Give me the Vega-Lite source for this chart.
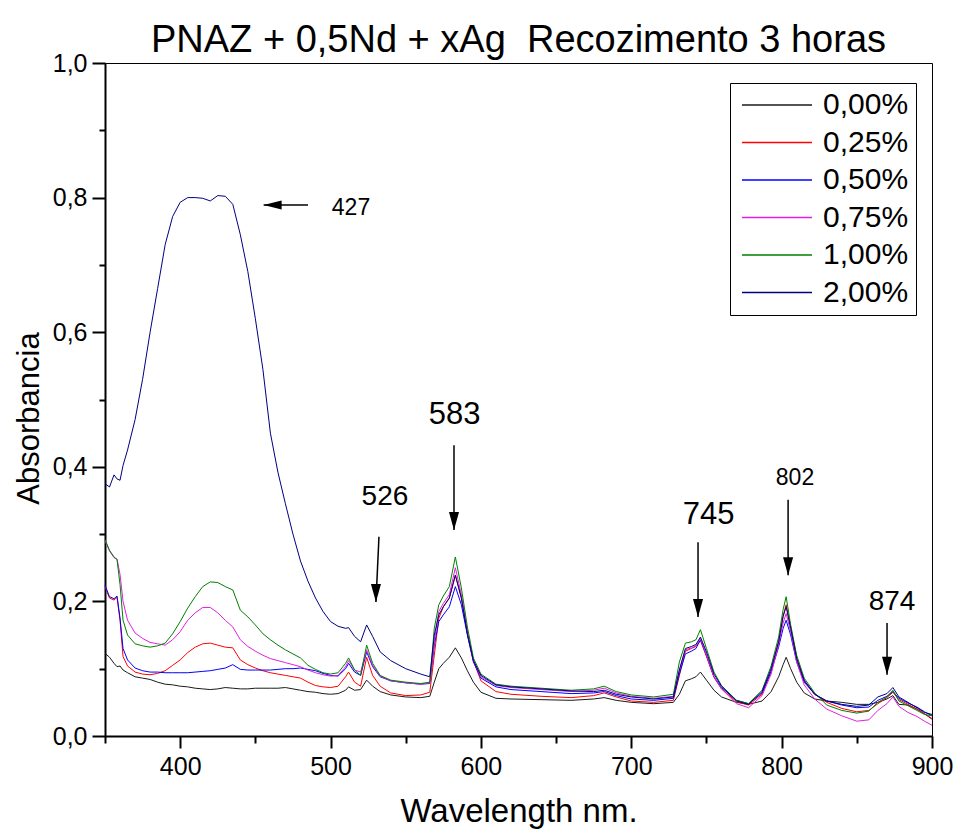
{
  "$schema": "https://vega.github.io/schema/vega-lite/v6.json",
  "width": 827,
  "height": 673,
  "autosize": {"type": "none"},
  "padding": {"left": 105, "top": 63, "right": 21, "bottom": 93},
  "background": "white",
  "title": {
    "text": "PNAZ + 0,5Nd + xAg\u00a0 Recozimento 3 horas",
    "font": "Liberation Sans",
    "fontSize": 38,
    "fontWeight": "normal",
    "color": "black",
    "anchor": "middle",
    "offset": 5,
    "dy": 14
  },
  "config": {
    "view": {"stroke": "black", "strokeWidth": 1},
    "font": "Liberation Sans"
  },
  "datasets": {
    "spectra": [
{"s":"0,00%","w":350,"a":0.123},{"s":"0,00%","w":353,"a":0.117},{"s":"0,00%","w":356,"a":0.108},{"s":"0,00%","w":358,"a":0.103},{"s":"0,00%","w":360,"a":0.104},{"s":"0,00%","w":362,"a":0.098},{"s":"0,00%","w":365,"a":0.094},{"s":"0,00%","w":370,"a":0.088},{"s":"0,00%","w":375,"a":0.086},{"s":"0,00%","w":380,"a":0.084},{"s":"0,00%","w":385,"a":0.080},{"s":"0,00%","w":390,"a":0.077},{"s":"0,00%","w":395,"a":0.076},{"s":"0,00%","w":400,"a":0.074},{"s":"0,00%","w":405,"a":0.073},{"s":"0,00%","w":410,"a":0.071},{"s":"0,00%","w":415,"a":0.070},{"s":"0,00%","w":420,"a":0.069},{"s":"0,00%","w":425,"a":0.070},{"s":"0,00%","w":430,"a":0.072},{"s":"0,00%","w":435,"a":0.071},{"s":"0,00%","w":440,"a":0.070},{"s":"0,00%","w":445,"a":0.070},{"s":"0,00%","w":450,"a":0.071},{"s":"0,00%","w":455,"a":0.071},{"s":"0,00%","w":460,"a":0.071},{"s":"0,00%","w":465,"a":0.071},{"s":"0,00%","w":470,"a":0.072},{"s":"0,00%","w":475,"a":0.070},{"s":"0,00%","w":480,"a":0.068},{"s":"0,00%","w":485,"a":0.066},{"s":"0,00%","w":490,"a":0.065},{"s":"0,00%","w":495,"a":0.063},{"s":"0,00%","w":500,"a":0.062},{"s":"0,00%","w":505,"a":0.063},{"s":"0,00%","w":510,"a":0.068},{"s":"0,00%","w":512,"a":0.073},{"s":"0,00%","w":516,"a":0.068},{"s":"0,00%","w":520,"a":0.069},{"s":"0,00%","w":524,"a":0.083},{"s":"0,00%","w":528,"a":0.074},{"s":"0,00%","w":533,"a":0.066},{"s":"0,00%","w":540,"a":0.061},{"s":"0,00%","w":550,"a":0.058},{"s":"0,00%","w":560,"a":0.057},{"s":"0,00%","w":566,"a":0.059},{"s":"0,00%","w":569,"a":0.080},{"s":"0,00%","w":572,"a":0.100},{"s":"0,00%","w":575,"a":0.108},{"s":"0,00%","w":579,"a":0.117},{"s":"0,00%","w":583,"a":0.131},{"s":"0,00%","w":587,"a":0.116},{"s":"0,00%","w":591,"a":0.097},{"s":"0,00%","w":595,"a":0.080},{"s":"0,00%","w":600,"a":0.065},{"s":"0,00%","w":610,"a":0.056},{"s":"0,00%","w":620,"a":0.055},{"s":"0,00%","w":640,"a":0.054},{"s":"0,00%","w":660,"a":0.053},{"s":"0,00%","w":675,"a":0.055},{"s":"0,00%","w":682,"a":0.057},{"s":"0,00%","w":690,"a":0.053},{"s":"0,00%","w":700,"a":0.050},{"s":"0,00%","w":715,"a":0.048},{"s":"0,00%","w":728,"a":0.050},{"s":"0,00%","w":732,"a":0.062},{"s":"0,00%","w":736,"a":0.082},{"s":"0,00%","w":740,"a":0.085},{"s":"0,00%","w":743,"a":0.088},{"s":"0,00%","w":746,"a":0.095},{"s":"0,00%","w":750,"a":0.083},{"s":"0,00%","w":755,"a":0.068},{"s":"0,00%","w":760,"a":0.058},{"s":"0,00%","w":770,"a":0.050},{"s":"0,00%","w":778,"a":0.047},{"s":"0,00%","w":787,"a":0.052},{"s":"0,00%","w":793,"a":0.066},{"s":"0,00%","w":798,"a":0.088},{"s":"0,00%","w":801,"a":0.106},{"s":"0,00%","w":803,"a":0.117},{"s":"0,00%","w":806,"a":0.100},{"s":"0,00%","w":810,"a":0.080},{"s":"0,00%","w":815,"a":0.064},{"s":"0,00%","w":822,"a":0.055},{"s":"0,00%","w":830,"a":0.052},{"s":"0,00%","w":840,"a":0.050},{"s":"0,00%","w":850,"a":0.047},{"s":"0,00%","w":858,"a":0.047},{"s":"0,00%","w":864,"a":0.050},{"s":"0,00%","w":870,"a":0.055},{"s":"0,00%","w":874,"a":0.060},{"s":"0,00%","w":878,"a":0.047},{"s":"0,00%","w":884,"a":0.046},{"s":"0,00%","w":890,"a":0.040},{"s":"0,00%","w":895,"a":0.033},{"s":"0,00%","w":900,"a":0.025},
{"s":"0,25%","w":350,"a":0.222},{"s":"0,25%","w":353,"a":0.205},{"s":"0,25%","w":356,"a":0.202},{"s":"0,25%","w":358,"a":0.206},{"s":"0,25%","w":360,"a":0.172},{"s":"0,25%","w":362,"a":0.118},{"s":"0,25%","w":365,"a":0.104},{"s":"0,25%","w":370,"a":0.095},{"s":"0,25%","w":375,"a":0.092},{"s":"0,25%","w":380,"a":0.091},{"s":"0,25%","w":385,"a":0.093},{"s":"0,25%","w":390,"a":0.097},{"s":"0,25%","w":395,"a":0.105},{"s":"0,25%","w":400,"a":0.113},{"s":"0,25%","w":405,"a":0.124},{"s":"0,25%","w":410,"a":0.132},{"s":"0,25%","w":415,"a":0.137},{"s":"0,25%","w":420,"a":0.138},{"s":"0,25%","w":425,"a":0.135},{"s":"0,25%","w":430,"a":0.132},{"s":"0,25%","w":435,"a":0.131},{"s":"0,25%","w":440,"a":0.113},{"s":"0,25%","w":445,"a":0.106},{"s":"0,25%","w":450,"a":0.101},{"s":"0,25%","w":455,"a":0.097},{"s":"0,25%","w":460,"a":0.094},{"s":"0,25%","w":465,"a":0.092},{"s":"0,25%","w":470,"a":0.090},{"s":"0,25%","w":475,"a":0.088},{"s":"0,25%","w":480,"a":0.086},{"s":"0,25%","w":485,"a":0.080},{"s":"0,25%","w":490,"a":0.075},{"s":"0,25%","w":495,"a":0.073},{"s":"0,25%","w":500,"a":0.072},{"s":"0,25%","w":505,"a":0.074},{"s":"0,25%","w":510,"a":0.088},{"s":"0,25%","w":512,"a":0.095},{"s":"0,25%","w":516,"a":0.080},{"s":"0,25%","w":520,"a":0.074},{"s":"0,25%","w":524,"a":0.117},{"s":"0,25%","w":528,"a":0.090},{"s":"0,25%","w":533,"a":0.074},{"s":"0,25%","w":540,"a":0.064},{"s":"0,25%","w":550,"a":0.060},{"s":"0,25%","w":560,"a":0.061},{"s":"0,25%","w":566,"a":0.065},{"s":"0,25%","w":569,"a":0.120},{"s":"0,25%","w":572,"a":0.175},{"s":"0,25%","w":575,"a":0.192},{"s":"0,25%","w":579,"a":0.205},{"s":"0,25%","w":583,"a":0.239},{"s":"0,25%","w":587,"a":0.205},{"s":"0,25%","w":591,"a":0.152},{"s":"0,25%","w":595,"a":0.112},{"s":"0,25%","w":600,"a":0.082},{"s":"0,25%","w":610,"a":0.066},{"s":"0,25%","w":620,"a":0.062},{"s":"0,25%","w":640,"a":0.059},{"s":"0,25%","w":660,"a":0.057},{"s":"0,25%","w":675,"a":0.060},{"s":"0,25%","w":682,"a":0.064},{"s":"0,25%","w":690,"a":0.058},{"s":"0,25%","w":700,"a":0.052},{"s":"0,25%","w":715,"a":0.050},{"s":"0,25%","w":728,"a":0.053},{"s":"0,25%","w":732,"a":0.090},{"s":"0,25%","w":736,"a":0.126},{"s":"0,25%","w":740,"a":0.130},{"s":"0,25%","w":743,"a":0.133},{"s":"0,25%","w":746,"a":0.142},{"s":"0,25%","w":750,"a":0.118},{"s":"0,25%","w":755,"a":0.087},{"s":"0,25%","w":760,"a":0.070},{"s":"0,25%","w":770,"a":0.051},{"s":"0,25%","w":778,"a":0.046},{"s":"0,25%","w":787,"a":0.062},{"s":"0,25%","w":793,"a":0.096},{"s":"0,25%","w":798,"a":0.140},{"s":"0,25%","w":801,"a":0.178},{"s":"0,25%","w":803,"a":0.195},{"s":"0,25%","w":806,"a":0.163},{"s":"0,25%","w":810,"a":0.116},{"s":"0,25%","w":815,"a":0.082},{"s":"0,25%","w":822,"a":0.062},{"s":"0,25%","w":830,"a":0.050},{"s":"0,25%","w":840,"a":0.041},{"s":"0,25%","w":850,"a":0.036},{"s":"0,25%","w":858,"a":0.038},{"s":"0,25%","w":864,"a":0.048},{"s":"0,25%","w":870,"a":0.057},{"s":"0,25%","w":874,"a":0.065},{"s":"0,25%","w":878,"a":0.054},{"s":"0,25%","w":884,"a":0.047},{"s":"0,25%","w":890,"a":0.040},{"s":"0,25%","w":895,"a":0.033},{"s":"0,25%","w":900,"a":0.026},
{"s":"0,50%","w":350,"a":0.224},{"s":"0,50%","w":353,"a":0.207},{"s":"0,50%","w":356,"a":0.204},{"s":"0,50%","w":358,"a":0.208},{"s":"0,50%","w":360,"a":0.175},{"s":"0,50%","w":362,"a":0.130},{"s":"0,50%","w":365,"a":0.113},{"s":"0,50%","w":370,"a":0.101},{"s":"0,50%","w":375,"a":0.097},{"s":"0,50%","w":380,"a":0.095},{"s":"0,50%","w":385,"a":0.095},{"s":"0,50%","w":390,"a":0.094},{"s":"0,50%","w":395,"a":0.094},{"s":"0,50%","w":400,"a":0.094},{"s":"0,50%","w":405,"a":0.094},{"s":"0,50%","w":410,"a":0.095},{"s":"0,50%","w":415,"a":0.096},{"s":"0,50%","w":420,"a":0.097},{"s":"0,50%","w":425,"a":0.099},{"s":"0,50%","w":430,"a":0.101},{"s":"0,50%","w":435,"a":0.106},{"s":"0,50%","w":440,"a":0.099},{"s":"0,50%","w":445,"a":0.098},{"s":"0,50%","w":450,"a":0.098},{"s":"0,50%","w":455,"a":0.098},{"s":"0,50%","w":460,"a":0.098},{"s":"0,50%","w":465,"a":0.099},{"s":"0,50%","w":470,"a":0.100},{"s":"0,50%","w":475,"a":0.100},{"s":"0,50%","w":480,"a":0.101},{"s":"0,50%","w":485,"a":0.099},{"s":"0,50%","w":490,"a":0.097},{"s":"0,50%","w":495,"a":0.093},{"s":"0,50%","w":500,"a":0.090},{"s":"0,50%","w":505,"a":0.089},{"s":"0,50%","w":510,"a":0.100},{"s":"0,50%","w":512,"a":0.108},{"s":"0,50%","w":516,"a":0.095},{"s":"0,50%","w":520,"a":0.090},{"s":"0,50%","w":524,"a":0.125},{"s":"0,50%","w":528,"a":0.103},{"s":"0,50%","w":533,"a":0.088},{"s":"0,50%","w":540,"a":0.082},{"s":"0,50%","w":550,"a":0.079},{"s":"0,50%","w":560,"a":0.077},{"s":"0,50%","w":566,"a":0.078},{"s":"0,50%","w":569,"a":0.135},{"s":"0,50%","w":572,"a":0.170},{"s":"0,50%","w":575,"a":0.180},{"s":"0,50%","w":579,"a":0.192},{"s":"0,50%","w":583,"a":0.222},{"s":"0,50%","w":587,"a":0.195},{"s":"0,50%","w":591,"a":0.150},{"s":"0,50%","w":595,"a":0.110},{"s":"0,50%","w":600,"a":0.086},{"s":"0,50%","w":610,"a":0.073},{"s":"0,50%","w":620,"a":0.069},{"s":"0,50%","w":640,"a":0.066},{"s":"0,50%","w":660,"a":0.063},{"s":"0,50%","w":675,"a":0.064},{"s":"0,50%","w":682,"a":0.066},{"s":"0,50%","w":690,"a":0.060},{"s":"0,50%","w":700,"a":0.055},{"s":"0,50%","w":715,"a":0.053},{"s":"0,50%","w":728,"a":0.056},{"s":"0,50%","w":732,"a":0.092},{"s":"0,50%","w":736,"a":0.122},{"s":"0,50%","w":740,"a":0.126},{"s":"0,50%","w":743,"a":0.130},{"s":"0,50%","w":746,"a":0.143},{"s":"0,50%","w":750,"a":0.120},{"s":"0,50%","w":755,"a":0.088},{"s":"0,50%","w":760,"a":0.072},{"s":"0,50%","w":770,"a":0.053},{"s":"0,50%","w":778,"a":0.048},{"s":"0,50%","w":787,"a":0.064},{"s":"0,50%","w":793,"a":0.096},{"s":"0,50%","w":798,"a":0.132},{"s":"0,50%","w":801,"a":0.160},{"s":"0,50%","w":803,"a":0.172},{"s":"0,50%","w":806,"a":0.150},{"s":"0,50%","w":810,"a":0.110},{"s":"0,50%","w":815,"a":0.080},{"s":"0,50%","w":822,"a":0.062},{"s":"0,50%","w":830,"a":0.052},{"s":"0,50%","w":840,"a":0.046},{"s":"0,50%","w":850,"a":0.042},{"s":"0,50%","w":858,"a":0.043},{"s":"0,50%","w":864,"a":0.053},{"s":"0,50%","w":870,"a":0.059},{"s":"0,50%","w":874,"a":0.066},{"s":"0,50%","w":878,"a":0.056},{"s":"0,50%","w":884,"a":0.049},{"s":"0,50%","w":890,"a":0.043},{"s":"0,50%","w":895,"a":0.036},{"s":"0,50%","w":900,"a":0.030},
{"s":"0,75%","w":350,"a":0.290},{"s":"0,75%","w":353,"a":0.275},{"s":"0,75%","w":356,"a":0.265},{"s":"0,75%","w":358,"a":0.263},{"s":"0,75%","w":360,"a":0.240},{"s":"0,75%","w":362,"a":0.200},{"s":"0,75%","w":365,"a":0.172},{"s":"0,75%","w":370,"a":0.153},{"s":"0,75%","w":375,"a":0.145},{"s":"0,75%","w":380,"a":0.139},{"s":"0,75%","w":385,"a":0.137},{"s":"0,75%","w":390,"a":0.135},{"s":"0,75%","w":395,"a":0.143},{"s":"0,75%","w":400,"a":0.155},{"s":"0,75%","w":405,"a":0.172},{"s":"0,75%","w":410,"a":0.183},{"s":"0,75%","w":415,"a":0.191},{"s":"0,75%","w":420,"a":0.191},{"s":"0,75%","w":425,"a":0.183},{"s":"0,75%","w":430,"a":0.172},{"s":"0,75%","w":435,"a":0.162},{"s":"0,75%","w":440,"a":0.143},{"s":"0,75%","w":445,"a":0.133},{"s":"0,75%","w":450,"a":0.126},{"s":"0,75%","w":455,"a":0.120},{"s":"0,75%","w":460,"a":0.115},{"s":"0,75%","w":465,"a":0.112},{"s":"0,75%","w":470,"a":0.109},{"s":"0,75%","w":475,"a":0.106},{"s":"0,75%","w":480,"a":0.103},{"s":"0,75%","w":485,"a":0.098},{"s":"0,75%","w":490,"a":0.094},{"s":"0,75%","w":495,"a":0.091},{"s":"0,75%","w":500,"a":0.089},{"s":"0,75%","w":505,"a":0.090},{"s":"0,75%","w":510,"a":0.103},{"s":"0,75%","w":512,"a":0.112},{"s":"0,75%","w":516,"a":0.098},{"s":"0,75%","w":520,"a":0.095},{"s":"0,75%","w":524,"a":0.128},{"s":"0,75%","w":528,"a":0.105},{"s":"0,75%","w":533,"a":0.089},{"s":"0,75%","w":540,"a":0.082},{"s":"0,75%","w":550,"a":0.079},{"s":"0,75%","w":560,"a":0.077},{"s":"0,75%","w":566,"a":0.079},{"s":"0,75%","w":569,"a":0.140},{"s":"0,75%","w":572,"a":0.185},{"s":"0,75%","w":575,"a":0.197},{"s":"0,75%","w":579,"a":0.210},{"s":"0,75%","w":583,"a":0.250},{"s":"0,75%","w":587,"a":0.210},{"s":"0,75%","w":591,"a":0.155},{"s":"0,75%","w":595,"a":0.112},{"s":"0,75%","w":600,"a":0.088},{"s":"0,75%","w":610,"a":0.075},{"s":"0,75%","w":620,"a":0.072},{"s":"0,75%","w":640,"a":0.069},{"s":"0,75%","w":660,"a":0.066},{"s":"0,75%","w":675,"a":0.068},{"s":"0,75%","w":682,"a":0.071},{"s":"0,75%","w":690,"a":0.064},{"s":"0,75%","w":700,"a":0.059},{"s":"0,75%","w":715,"a":0.056},{"s":"0,75%","w":728,"a":0.059},{"s":"0,75%","w":732,"a":0.098},{"s":"0,75%","w":736,"a":0.128},{"s":"0,75%","w":740,"a":0.131},{"s":"0,75%","w":743,"a":0.134},{"s":"0,75%","w":746,"a":0.145},{"s":"0,75%","w":750,"a":0.120},{"s":"0,75%","w":755,"a":0.088},{"s":"0,75%","w":760,"a":0.070},{"s":"0,75%","w":770,"a":0.048},{"s":"0,75%","w":778,"a":0.042},{"s":"0,75%","w":787,"a":0.060},{"s":"0,75%","w":793,"a":0.092},{"s":"0,75%","w":798,"a":0.136},{"s":"0,75%","w":801,"a":0.168},{"s":"0,75%","w":803,"a":0.182},{"s":"0,75%","w":806,"a":0.155},{"s":"0,75%","w":810,"a":0.110},{"s":"0,75%","w":815,"a":0.076},{"s":"0,75%","w":822,"a":0.055},{"s":"0,75%","w":830,"a":0.040},{"s":"0,75%","w":840,"a":0.030},{"s":"0,75%","w":850,"a":0.022},{"s":"0,75%","w":858,"a":0.024},{"s":"0,75%","w":864,"a":0.038},{"s":"0,75%","w":870,"a":0.048},{"s":"0,75%","w":874,"a":0.058},{"s":"0,75%","w":878,"a":0.044},{"s":"0,75%","w":884,"a":0.035},{"s":"0,75%","w":890,"a":0.029},{"s":"0,75%","w":895,"a":0.022},{"s":"0,75%","w":900,"a":0.016},
{"s":"1,00%","w":350,"a":0.292},{"s":"1,00%","w":353,"a":0.276},{"s":"1,00%","w":356,"a":0.266},{"s":"1,00%","w":358,"a":0.262},{"s":"1,00%","w":360,"a":0.225},{"s":"1,00%","w":362,"a":0.172},{"s":"1,00%","w":365,"a":0.150},{"s":"1,00%","w":370,"a":0.137},{"s":"1,00%","w":375,"a":0.134},{"s":"1,00%","w":380,"a":0.132},{"s":"1,00%","w":385,"a":0.134},{"s":"1,00%","w":390,"a":0.138},{"s":"1,00%","w":395,"a":0.152},{"s":"1,00%","w":400,"a":0.170},{"s":"1,00%","w":405,"a":0.190},{"s":"1,00%","w":410,"a":0.207},{"s":"1,00%","w":415,"a":0.222},{"s":"1,00%","w":420,"a":0.229},{"s":"1,00%","w":425,"a":0.228},{"s":"1,00%","w":430,"a":0.222},{"s":"1,00%","w":435,"a":0.217},{"s":"1,00%","w":440,"a":0.187},{"s":"1,00%","w":445,"a":0.177},{"s":"1,00%","w":450,"a":0.165},{"s":"1,00%","w":455,"a":0.152},{"s":"1,00%","w":460,"a":0.143},{"s":"1,00%","w":465,"a":0.135},{"s":"1,00%","w":470,"a":0.128},{"s":"1,00%","w":475,"a":0.122},{"s":"1,00%","w":480,"a":0.116},{"s":"1,00%","w":485,"a":0.105},{"s":"1,00%","w":490,"a":0.099},{"s":"1,00%","w":495,"a":0.094},{"s":"1,00%","w":500,"a":0.092},{"s":"1,00%","w":505,"a":0.094},{"s":"1,00%","w":510,"a":0.108},{"s":"1,00%","w":512,"a":0.116},{"s":"1,00%","w":516,"a":0.098},{"s":"1,00%","w":520,"a":0.090},{"s":"1,00%","w":524,"a":0.135},{"s":"1,00%","w":528,"a":0.108},{"s":"1,00%","w":533,"a":0.090},{"s":"1,00%","w":540,"a":0.083},{"s":"1,00%","w":550,"a":0.080},{"s":"1,00%","w":560,"a":0.078},{"s":"1,00%","w":566,"a":0.080},{"s":"1,00%","w":569,"a":0.160},{"s":"1,00%","w":572,"a":0.195},{"s":"1,00%","w":575,"a":0.208},{"s":"1,00%","w":579,"a":0.222},{"s":"1,00%","w":583,"a":0.266},{"s":"1,00%","w":587,"a":0.220},{"s":"1,00%","w":591,"a":0.162},{"s":"1,00%","w":595,"a":0.116},{"s":"1,00%","w":600,"a":0.092},{"s":"1,00%","w":610,"a":0.077},{"s":"1,00%","w":620,"a":0.074},{"s":"1,00%","w":640,"a":0.071},{"s":"1,00%","w":660,"a":0.068},{"s":"1,00%","w":675,"a":0.070},{"s":"1,00%","w":682,"a":0.074},{"s":"1,00%","w":690,"a":0.066},{"s":"1,00%","w":700,"a":0.061},{"s":"1,00%","w":715,"a":0.058},{"s":"1,00%","w":728,"a":0.062},{"s":"1,00%","w":732,"a":0.110},{"s":"1,00%","w":736,"a":0.138},{"s":"1,00%","w":740,"a":0.140},{"s":"1,00%","w":743,"a":0.143},{"s":"1,00%","w":746,"a":0.158},{"s":"1,00%","w":750,"a":0.130},{"s":"1,00%","w":755,"a":0.095},{"s":"1,00%","w":760,"a":0.075},{"s":"1,00%","w":770,"a":0.053},{"s":"1,00%","w":778,"a":0.048},{"s":"1,00%","w":787,"a":0.068},{"s":"1,00%","w":793,"a":0.104},{"s":"1,00%","w":798,"a":0.147},{"s":"1,00%","w":801,"a":0.188},{"s":"1,00%","w":803,"a":0.207},{"s":"1,00%","w":806,"a":0.165},{"s":"1,00%","w":810,"a":0.120},{"s":"1,00%","w":815,"a":0.086},{"s":"1,00%","w":822,"a":0.064},{"s":"1,00%","w":830,"a":0.046},{"s":"1,00%","w":840,"a":0.038},{"s":"1,00%","w":850,"a":0.034},{"s":"1,00%","w":858,"a":0.037},{"s":"1,00%","w":864,"a":0.050},{"s":"1,00%","w":870,"a":0.058},{"s":"1,00%","w":874,"a":0.068},{"s":"1,00%","w":878,"a":0.052},{"s":"1,00%","w":884,"a":0.045},{"s":"1,00%","w":890,"a":0.038},{"s":"1,00%","w":895,"a":0.032},{"s":"1,00%","w":900,"a":0.030},
{"s":"2,00%","w":350,"a":0.375},{"s":"2,00%","w":353,"a":0.370},{"s":"2,00%","w":356,"a":0.388},{"s":"2,00%","w":358,"a":0.382},{"s":"2,00%","w":360,"a":0.380},{"s":"2,00%","w":362,"a":0.402},{"s":"2,00%","w":365,"a":0.425},{"s":"2,00%","w":370,"a":0.470},{"s":"2,00%","w":375,"a":0.530},{"s":"2,00%","w":380,"a":0.600},{"s":"2,00%","w":385,"a":0.665},{"s":"2,00%","w":390,"a":0.730},{"s":"2,00%","w":395,"a":0.772},{"s":"2,00%","w":400,"a":0.793},{"s":"2,00%","w":405,"a":0.800},{"s":"2,00%","w":410,"a":0.800},{"s":"2,00%","w":415,"a":0.799},{"s":"2,00%","w":420,"a":0.795},{"s":"2,00%","w":425,"a":0.803},{"s":"2,00%","w":430,"a":0.802},{"s":"2,00%","w":435,"a":0.790},{"s":"2,00%","w":440,"a":0.745},{"s":"2,00%","w":445,"a":0.690},{"s":"2,00%","w":450,"a":0.620},{"s":"2,00%","w":455,"a":0.545},{"s":"2,00%","w":460,"a":0.450},{"s":"2,00%","w":465,"a":0.392},{"s":"2,00%","w":470,"a":0.345},{"s":"2,00%","w":475,"a":0.300},{"s":"2,00%","w":480,"a":0.260},{"s":"2,00%","w":485,"a":0.230},{"s":"2,00%","w":490,"a":0.205},{"s":"2,00%","w":495,"a":0.185},{"s":"2,00%","w":500,"a":0.170},{"s":"2,00%","w":505,"a":0.163},{"s":"2,00%","w":510,"a":0.160},{"s":"2,00%","w":512,"a":0.161},{"s":"2,00%","w":516,"a":0.148},{"s":"2,00%","w":520,"a":0.140},{"s":"2,00%","w":524,"a":0.165},{"s":"2,00%","w":528,"a":0.148},{"s":"2,00%","w":533,"a":0.125},{"s":"2,00%","w":540,"a":0.112},{"s":"2,00%","w":550,"a":0.100},{"s":"2,00%","w":560,"a":0.092},{"s":"2,00%","w":566,"a":0.088},{"s":"2,00%","w":569,"a":0.150},{"s":"2,00%","w":572,"a":0.180},{"s":"2,00%","w":575,"a":0.192},{"s":"2,00%","w":579,"a":0.205},{"s":"2,00%","w":583,"a":0.239},{"s":"2,00%","w":587,"a":0.205},{"s":"2,00%","w":591,"a":0.152},{"s":"2,00%","w":595,"a":0.112},{"s":"2,00%","w":600,"a":0.090},{"s":"2,00%","w":610,"a":0.076},{"s":"2,00%","w":620,"a":0.073},{"s":"2,00%","w":640,"a":0.070},{"s":"2,00%","w":660,"a":0.067},{"s":"2,00%","w":675,"a":0.066},{"s":"2,00%","w":682,"a":0.068},{"s":"2,00%","w":690,"a":0.062},{"s":"2,00%","w":700,"a":0.058},{"s":"2,00%","w":715,"a":0.055},{"s":"2,00%","w":728,"a":0.058},{"s":"2,00%","w":732,"a":0.098},{"s":"2,00%","w":736,"a":0.130},{"s":"2,00%","w":740,"a":0.133},{"s":"2,00%","w":743,"a":0.136},{"s":"2,00%","w":746,"a":0.147},{"s":"2,00%","w":750,"a":0.125},{"s":"2,00%","w":755,"a":0.092},{"s":"2,00%","w":760,"a":0.074},{"s":"2,00%","w":770,"a":0.052},{"s":"2,00%","w":778,"a":0.047},{"s":"2,00%","w":787,"a":0.066},{"s":"2,00%","w":793,"a":0.100},{"s":"2,00%","w":798,"a":0.140},{"s":"2,00%","w":801,"a":0.178},{"s":"2,00%","w":803,"a":0.192},{"s":"2,00%","w":806,"a":0.160},{"s":"2,00%","w":810,"a":0.115},{"s":"2,00%","w":815,"a":0.083},{"s":"2,00%","w":822,"a":0.062},{"s":"2,00%","w":830,"a":0.052},{"s":"2,00%","w":840,"a":0.047},{"s":"2,00%","w":850,"a":0.044},{"s":"2,00%","w":858,"a":0.046},{"s":"2,00%","w":864,"a":0.058},{"s":"2,00%","w":870,"a":0.063},{"s":"2,00%","w":874,"a":0.072},{"s":"2,00%","w":878,"a":0.058},{"s":"2,00%","w":884,"a":0.050},{"s":"2,00%","w":890,"a":0.042},{"s":"2,00%","w":895,"a":0.035},{"s":"2,00%","w":900,"a":0.032}
    ],
    "arrows": [
      {"x": 485.0, "y": 0.789, "x2": 455.5, "y2": 0.789},
      {"x": 532.2, "y": 0.296, "x2": 530.2, "y2": 0.199},
      {"x": 582.1, "y": 0.432, "x2": 582.1, "y2": 0.306},
      {"x": 744.4, "y": 0.288, "x2": 744.4, "y2": 0.177},
      {"x": 804.3, "y": 0.351, "x2": 804.3, "y2": 0.239},
      {"x": 870.1, "y": 0.168, "x2": 870.1, "y2": 0.091}
    ],
    "labels": [
      {"x": 513.6, "y": 0.785, "t": "427"},
      {"x": 536.2, "y": 0.355, "t": "526"},
      {"x": 582.5, "y": 0.477, "t": "583"},
      {"x": 751.4, "y": 0.328, "t": "745"},
      {"x": 808.9, "y": 0.383, "t": "802"},
      {"x": 873.4, "y": 0.199, "t": "874"}
    ]
  },
  "layer": [
    {
      "data": {"name": "spectra"},
      "mark": {"type": "line", "strokeWidth": 1, "interpolate": "linear"},
      "encoding": {
        "x": {
          "field": "w", "type": "quantitative",
          "scale": {"domain": [350, 900], "nice": false, "zero": false},
          "axis": {
            "title": "Wavelength nm.",
            "values": [350, 400, 450, 500, 550, 600, 650, 700, 750, 800, 850, 900],
            "labelExpr": "datum.value % 100 == 0 ? datum.label : ''",
            "labelFontSize": 25, "labelColor": "black", "labelPadding": 6,
            "labelFont": "Liberation Sans",
            "labelOverlap": false, "labelFlush": false,
            "tickSize": {"condition": {"test": "datum.value % 100 == 0", "value": 12}, "value": 7},
            "tickWidth": 2, "tickColor": "black",
            "domainWidth": 2, "domainColor": "black",
            "grid": false,
            "titleFontSize": 33, "titleFontWeight": "normal", "titleColor": "black",
            "titleFont": "Liberation Sans", "titlePadding": 16
          }
        },
        "y": {
          "field": "a", "type": "quantitative",
          "scale": {"domain": [0, 1], "nice": false, "zero": true},
          "axis": {
            "title": "Absorbancia",
            "values": [0, 0.1, 0.2, 0.3, 0.4, 0.5, 0.6, 0.7, 0.8, 0.9, 1.0],
            "labelExpr": "round(datum.value * 10) % 2 == 0 ? replace(format(datum.value, '.1f'), '.', ',') : ''",
            "labelFontSize": 25, "labelColor": "black", "labelPadding": 5,
            "labelFont": "Liberation Sans",
            "labelOverlap": false, "labelFlush": false,
            "tickSize": {"condition": {"test": "round(datum.value * 10) % 2 == 0", "value": 13}, "value": 6},
            "tickWidth": 2, "tickColor": "black",
            "domainWidth": 2, "domainColor": "black",
            "grid": false,
            "titleFontSize": 31, "titleFontWeight": "normal", "titleColor": "black",
            "titleFont": "Liberation Sans", "titlePadding": 7, "titleY": 355
          }
        },
        "color": {
          "field": "s", "type": "nominal",
          "scale": {
            "domain": ["0,00%", "0,25%", "0,50%", "0,75%", "1,00%", "2,00%"],
            "range": ["#1a1a1a", "#ff0000", "#0000ff", "#e020e0", "#008000", "#000080"]
          },
          "legend": {
            "title": null,
            "orient": "none",
            "legendX": 625,
            "legendY": 20,
            "symbolType": "M -3.5 0 L 3.5 0",
            "symbolSize": 400,
            "symbolStrokeWidth": 1.5,
            "symbolFillColor": "transparent",
            "symbolOffset": 25,
            "labelFontSize": 30,
            "labelFont": "Liberation Sans",
            "labelColor": "black",
            "labelOffset": 31,
            "rowPadding": 7.5,
            "padding": 7,
            "strokeColor": "black",
            "fillColor": "white",
            "labelLimit": 200
          }
        }
      }
    },
    {
      "data": {"name": "arrows"},
      "mark": {"type": "rule", "color": "black", "strokeWidth": 1.5},
      "encoding": {
        "x": {"field": "x", "type": "quantitative"},
        "y": {"field": "y", "type": "quantitative"},
        "x2": {"field": "x2"},
        "y2": {"field": "y2"}
      }
    },
    {
      "data": {"name": "arrows"},
      "transform": [{"filter": "datum.y != datum.y2"}],
      "mark": {"type": "point", "shape": "M -0.28 -1 L 0.28 -1 L 0 0 Z", "filled": true, "color": "black", "opacity": 1, "size": 1296, "strokeWidth": 0},
      "encoding": {
        "x": {"field": "x2", "type": "quantitative"},
        "y": {"field": "y2", "type": "quantitative"}
      }
    },
    {
      "data": {"name": "arrows"},
      "transform": [{"filter": "datum.y == datum.y2"}],
      "mark": {"type": "point", "shape": "M 1 -0.25 L 1 0.25 L 0 0 Z", "filled": true, "color": "black", "opacity": 1, "size": 1296, "strokeWidth": 0},
      "encoding": {
        "x": {"field": "x2", "type": "quantitative"},
        "y": {"field": "y2", "type": "quantitative"}
      }
    },
    {
      "data": {"name": "labels"},
      "transform": [{"filter": "datum.t == '583' || datum.t == '745'"}],
      "mark": {"type": "text", "fontSize": 31, "font": "Liberation Sans", "color": "black", "align": "center", "baseline": "middle"},
      "encoding": {
        "x": {"field": "x", "type": "quantitative"},
        "y": {"field": "y", "type": "quantitative"},
        "text": {"field": "t"}
      }
    },
    {
      "data": {"name": "labels"},
      "transform": [{"filter": "datum.t == '526' || datum.t == '874'"}],
      "mark": {"type": "text", "fontSize": 28, "font": "Liberation Sans", "color": "black", "align": "center", "baseline": "middle"},
      "encoding": {
        "x": {"field": "x", "type": "quantitative"},
        "y": {"field": "y", "type": "quantitative"},
        "text": {"field": "t"}
      }
    },
    {
      "data": {"name": "labels"},
      "transform": [{"filter": "datum.t == '427' || datum.t == '802'"}],
      "mark": {"type": "text", "fontSize": 23, "font": "Liberation Sans", "color": "black", "align": "center", "baseline": "middle"},
      "encoding": {
        "x": {"field": "x", "type": "quantitative"},
        "y": {"field": "y", "type": "quantitative"},
        "text": {"field": "t"}
      }
    }
  ]
}
